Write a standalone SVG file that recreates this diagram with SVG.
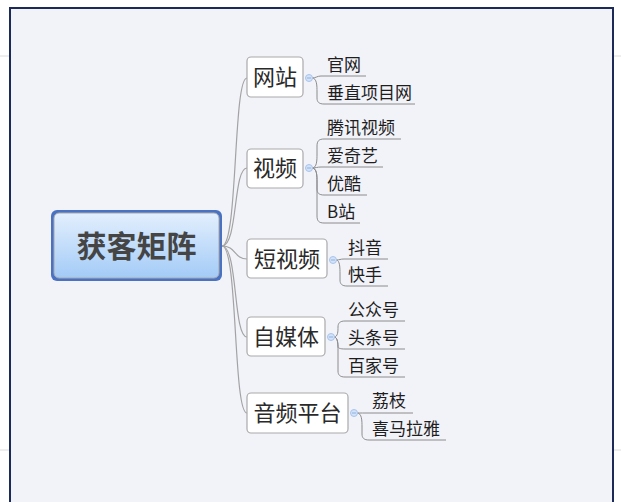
<svg xmlns="http://www.w3.org/2000/svg" width="621" height="502" viewBox="0 0 621 502">
<defs>
<linearGradient id="mg" x1="0" y1="0" x2="0" y2="1">
<stop offset="0" stop-color="#e3effd"/>
<stop offset="1" stop-color="#a3cbf7"/>
</linearGradient>
<style>
.conn{fill:none;stroke:#a3a3a3;stroke-width:1.2}
.leafl{fill:none;stroke:#8c8c8c;stroke-width:1}
.box{fill:#ffffff;stroke:#aaaaaa;stroke-width:1.2}
.bt{font-family:"Noto Sans CJK SC","Noto Sans",sans-serif;font-size:22px;fill:#2a2a2a}
.lt{font-family:"Noto Sans CJK SC","Noto Sans",sans-serif;font-size:17px;fill:#1e1e1e}
.mt{font-family:"Noto Sans CJK SC","Noto Sans",sans-serif;font-size:30px;font-weight:bold;fill:#454545}
.cc{fill:#d3e3f8;stroke:#a8c4ec;stroke-width:1}
.cm{stroke:#8fb0e0;stroke-width:1}
</style>
</defs>
<rect x="0" y="0" width="621" height="502" fill="#ffffff"/>
<rect x="10" y="8" width="603" height="500" fill="#f2f3f9" stroke="#1c2a58" stroke-width="2"/>
<line x1="0" y1="56" x2="9" y2="56" stroke="#dcdcdc" stroke-width="1"/>
<line x1="614" y1="56" x2="621" y2="56" stroke="#dcdcdc" stroke-width="1"/>
<line x1="0" y1="450" x2="9" y2="450" stroke="#dcdcdc" stroke-width="1"/>
<line x1="614" y1="450" x2="621" y2="450" stroke="#dcdcdc" stroke-width="1"/>

<g id="connectors">
<path class="conn" d="M222,246 C238,246 233,78 247,78"/>
<path class="conn" d="M222,246 C238,246 233,168 247,168"/>
<path class="conn" d="M222,246 C236,246 234,259 247,259"/>
<path class="conn" d="M222,246 C238,246 233,337 247,337"/>
<path class="conn" d="M222,246 C238,246 233,413 247,413"/>
<!-- 网站 leaves -->
<path class="leafl" d="M312,78 C316,78 317,76 321,76 H366"/>
<path class="leafl" d="M312,78 C317,78 317,86 317,92 V98 C317,102 319,104 324,104 H415"/>
<!-- 视频 leaves -->
<path class="leafl" d="M312,168 C317,168 317,160 317,154 V146 C317,141 319,139 324,139 H401"/>
<path class="leafl" d="M312,168 C316,168 317,167 321,167 H383"/>
<path class="leafl" d="M312,168 C317,168 317,176 317,182 V189 C317,193 319,195 324,195 H367"/>
<path class="leafl" d="M312,168 C317,168 317,176 317,182 V216 C317,221 319,223 324,223 H360"/>
<!-- 短视频 leaves -->
<path class="leafl" d="M336,260 C340,260 340,259 344,259 H388"/>
<path class="leafl" d="M336,260 C340,260 340,268 340,274 V280 C340,284 342,286 347,286 H388"/>
<!-- 自媒体 leaves -->
<path class="leafl" d="M334,337 C338,337 338,331 338,327 C338,323 340,321 345,321 H405"/>
<path class="leafl" d="M334,337 C338,337 338,345 338,347 C338,348 340,349 345,349 H405"/>
<path class="leafl" d="M334,337 C338,337 338,345 338,351 V371 C338,375 340,377 345,377 H405"/>
<!-- 音频平台 leaves -->
<path class="leafl" d="M357,413 C361,413 361,413 365,413 H413"/>
<path class="leafl" d="M357,413 C362,413 362,421 362,427 V434 C362,438 364,440 369,440 H446"/>
</g>

<g id="main">
<rect x="51" y="210" width="171" height="71" rx="6" fill="#4a72c3"/>
<rect x="54" y="213" width="165" height="65" rx="5" fill="url(#mg)" stroke="#a8a8a8" stroke-width="1"/>
<text class="mt" x="136.5" y="257" text-anchor="middle">获客矩阵</text>
</g>

<g id="n-wangzhan">
<rect class="box" x="247" y="57" width="56" height="40" rx="4"/>
<text class="bt" x="275" y="85" text-anchor="middle">网站</text>
<circle class="cc" cx="309" cy="78" r="3.5"/><line class="cm" x1="307" y1="78" x2="311" y2="78"/>
</g>
<g id="n-shipin">
<rect class="box" x="247" y="149" width="56" height="39" rx="4"/>
<text class="bt" x="275" y="176" text-anchor="middle">视频</text>
<circle class="cc" cx="309" cy="168" r="3.5"/><line class="cm" x1="307" y1="168" x2="311" y2="168"/>
</g>
<g id="n-duanshipin">
<rect class="box" x="247" y="239" width="80" height="39" rx="4"/>
<text class="bt" x="287" y="267" text-anchor="middle">短视频</text>
<circle class="cc" cx="333" cy="260" r="3.5"/><line class="cm" x1="331" y1="260" x2="335" y2="260"/>
</g>
<g id="n-zimeiti">
<rect class="box" x="247" y="317" width="78" height="39" rx="4"/>
<text class="bt" x="286" y="345" text-anchor="middle">自媒体</text>
<circle class="cc" cx="331" cy="337" r="3.5"/><line class="cm" x1="329" y1="337" x2="333" y2="337"/>
</g>
<g id="n-yinpin">
<rect class="box" x="247" y="393" width="101" height="40" rx="4"/>
<text class="bt" x="297.5" y="421" text-anchor="middle">音频平台</text>
<circle class="cc" cx="354" cy="413" r="3.5"/><line class="cm" x1="352" y1="413" x2="356" y2="413"/>
</g>

<g id="l-guanwang"><text class="lt" x="327" y="71">官网</text></g>
<g id="l-chuizhi"><text class="lt" x="327" y="99">垂直项目网</text></g>
<g id="l-tengxun"><text class="lt" x="327" y="134">腾讯视频</text></g>
<g id="l-aiqiyi"><text class="lt" x="327" y="162">爱奇艺</text></g>
<g id="l-youku"><text class="lt" x="327" y="190">优酷</text></g>
<g id="l-bzhan"><text class="lt" x="327" y="218">B站</text></g>
<g id="l-douyin"><text class="lt" x="348" y="254">抖音</text></g>
<g id="l-kuaishou"><text class="lt" x="348" y="281">快手</text></g>
<g id="l-gongzhong"><text class="lt" x="348" y="316">公众号</text></g>
<g id="l-toutiao"><text class="lt" x="348" y="344">头条号</text></g>
<g id="l-baijia"><text class="lt" x="348" y="372">百家号</text></g>
<g id="l-lizhi"><text class="lt" x="372" y="407">荔枝</text></g>
<g id="l-ximalaya"><text class="lt" x="372" y="435">喜马拉雅</text></g>
</svg>
